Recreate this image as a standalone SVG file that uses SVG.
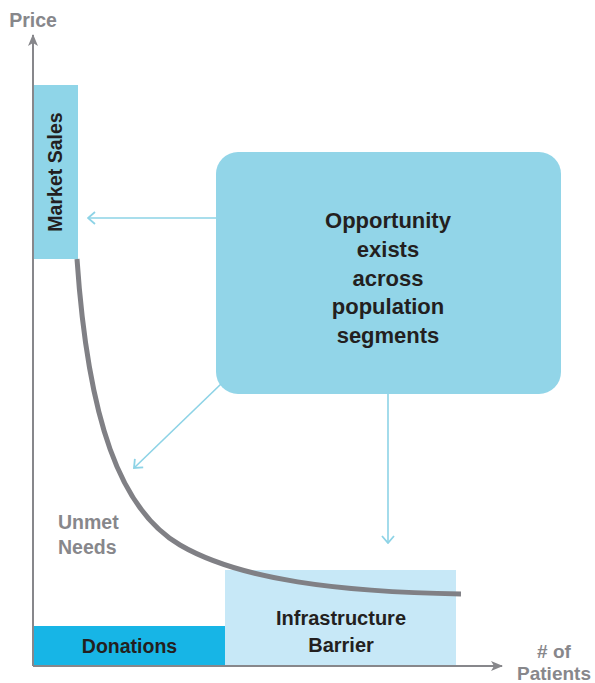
<svg xmlns="http://www.w3.org/2000/svg" width="595" height="683" viewBox="0 0 595 683">
  <style>
    .lbl { font-family: "Liberation Sans", Arial, sans-serif; font-weight: bold; }
    .dark { fill: #231f20; }
    .grey { fill: #87878b; }
    .axis { stroke: #87878b; stroke-width: 2; fill: none; }
    .link { stroke: #8dd3e6; stroke-width: 1.6; fill: none; }
  </style>
  <defs>
    <marker id="axisHead" viewBox="0 0 12 10" refX="11" refY="5" markerWidth="12" markerHeight="10" markerUnits="userSpaceOnUse" orient="auto">
      <path d="M0,0 L12,5 L0,10 L3,5 Z" fill="#87878b"/>
    </marker>
    <marker id="chevron" viewBox="0 0 10 14" refX="9" refY="7" markerWidth="10" markerHeight="14" markerUnits="userSpaceOnUse" orient="auto">
      <path d="M2,1 L9,7 L2,13" fill="none" stroke="#8dd3e6" stroke-width="1.8"/>
    </marker>
  </defs>

  <rect width="595" height="683" fill="#ffffff"/>

  <!-- shaded segments under the curve -->
  <g id="market-sales">
    <rect x="33" y="85" width="45" height="174" fill="#8fd5e8"/>
    <text class="lbl dark" font-size="19.5" text-anchor="middle" transform="translate(62,172) rotate(-90)">Market Sales</text>
  </g>

  <g id="infrastructure-barrier">
    <rect x="225" y="570" width="231" height="96" fill="#c7e8f7"/>
    <text class="lbl dark" font-size="20" text-anchor="middle" x="341" y="625">Infrastructure</text>
    <text class="lbl dark" font-size="20" text-anchor="middle" x="341" y="652">Barrier</text>
  </g>

  <g id="donations">
    <rect x="33" y="626" width="192" height="40" fill="#17b5e6"/>
    <text class="lbl dark" font-size="19.5" text-anchor="middle" x="129.5" y="653">Donations</text>
  </g>

  <!-- demand curve -->
  <g id="demand-curve">
    <path d="M77,259 C88,420 120,510 180,545 C240,580 340,592 461,594" fill="none" stroke="#808085" stroke-width="5"/>
  </g>

  <!-- axes -->
  <g id="axes">
    <line class="axis" x1="33" y1="666" x2="33" y2="35" marker-end="url(#axisHead)"/>
    <line class="axis" x1="33" y1="666" x2="502" y2="666" marker-end="url(#axisHead)"/>
    <text class="lbl grey" font-size="19.5" text-anchor="middle" x="33" y="27">Price</text>
    <text class="lbl grey" font-size="19" text-anchor="middle" x="554" y="658"># of</text>
    <text class="lbl grey" font-size="19" text-anchor="middle" x="554" y="680">Patients</text>
  </g>

  <g id="unmet-needs">
    <text class="lbl grey" font-size="19.5" x="58" y="529">Unmet</text>
    <text class="lbl grey" font-size="19.5" x="58" y="554">Needs</text>
  </g>

  <!-- callout box -->
  <g id="opportunity">
    <rect x="216" y="152" width="345" height="242" rx="22" ry="22" fill="#92d5e8"/>
    <g class="lbl dark" font-size="22" text-anchor="middle">
      <text x="388" y="228">Opportunity</text>
      <text x="388" y="257">exists</text>
      <text x="388" y="286">across</text>
      <text x="388" y="314">population</text>
      <text x="388" y="343">segments</text>
    </g>
  </g>

  <!-- connectors from the callout -->
  <g id="connectors">
    <line class="link" x1="216" y1="218" x2="88" y2="218" marker-end="url(#chevron)"/>
    <line class="link" x1="221" y1="384" x2="134" y2="468" marker-end="url(#chevron)"/>
    <line class="link" x1="388" y1="394" x2="388" y2="543" marker-end="url(#chevron)"/>
  </g>
</svg>
